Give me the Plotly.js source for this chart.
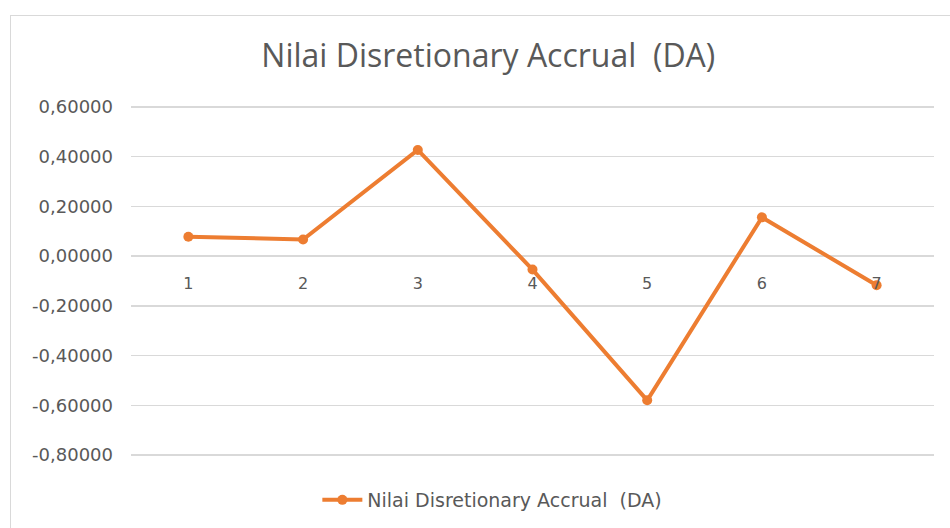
<!DOCTYPE html>
<html>
<head>
<meta charset="utf-8">
<script src="https://cdn.plot.ly/plotly-3.0.1.min.js"></script>
<style>
  html, body { margin: 0; padding: 0; background: #ffffff; }
  #wrap { position: relative; width: 950px; height: 528px; overflow: hidden; }
  #chart { position: absolute; left: 0; top: 0; width: 950px; height: 528px; }
  #frame { position: absolute; left: 10px; top: 15px; width: 960px; height: 540px;
           border: 1.5px solid #d9d9d9; pointer-events: none; }
</style>
</head>
<body>
<div id="wrap">
  <div id="chart"></div>
  <div id="frame"></div>
</div>
<script>
const categories = ['1', '2', '3', '4', '5', '6', '7'];
const daValues = [0.078, 0.067, 0.427, -0.054, -0.580, 0.156, -0.117];
const seriesName = 'Nilai Disretionary Accrual  (DA)';
const chartTitle = 'Nilai Disretionary Accrual  (DA)';
const yTickVals = [-0.8, -0.6, -0.4, -0.2, 0, 0.2, 0.4, 0.6];
const yTickText = ['-0,80000', '-0,60000', '-0,40000', '-0,20000', '0,00000', '0,20000', '0,40000', '0,60000'];

const orange = '#ED7D31';
const textGray = '#595959';
const fontFam = '"DejaVu Sans", "Open Sans", sans-serif';

const yMin = -0.8, yMax = 0.6, yPad = 0.012;

const trace = {
  type: 'scatter',
  mode: 'lines+markers',
  x: categories,
  y: daValues,
  name: seriesName,
  line: { color: orange, width: 4 },
  marker: { color: orange, size: 10, symbol: 'circle' },
  showlegend: true
};

const layout = {
  width: 950,
  height: 528,
  paper_bgcolor: '#ffffff',
  plot_bgcolor: '#ffffff',
  separators: ',.',
  margin: { l: 131, r: 16, t: 104, b: 70, autoexpand: false },
  title: {
    text: chartTitle,
    x: 0.514,
    xanchor: 'center',
    y: 1 - 56 / 528,
    yanchor: 'middle',
    font: { family: '"Open Sans", sans-serif', size: 32, color: textGray }
  },
  xaxis: {
    type: 'category',
    range: [-0.5, 6.5],
    showgrid: false,
    showline: false,
    zeroline: false,
    ticks: '',
    anchor: 'free',
    position: (0 - (yMin - yPad)) / ((yMax + yPad) - (yMin - yPad)),
    ticklabelstandoff: 16,
    tickfont: { family: fontFam, size: 16, color: textGray }
  },
  yaxis: {
    range: [yMin - yPad, yMax + yPad],
    tickvals: yTickVals,
    ticktext: yTickText,
    showgrid: true,
    gridcolor: '#d9d9d9',
    gridwidth: 1.3,
    zeroline: false,
    showline: false,
    ticks: '',
    ticklabelstandoff: 17,
    tickfont: { family: fontFam, size: 18, color: textGray }
  },
  legend: {
    orientation: 'h',
    x: 0.45,
    xanchor: 'center',
    yref: 'container',
    y: 1 - 500 / 528,
    yanchor: 'middle',
    font: { family: fontFam, size: 19, color: textGray },
    itemwidth: 40
  }
};

Plotly.newPlot('chart', [trace], layout, { displayModeBar: false, staticPlot: true });
</script>
</body>
</html>
